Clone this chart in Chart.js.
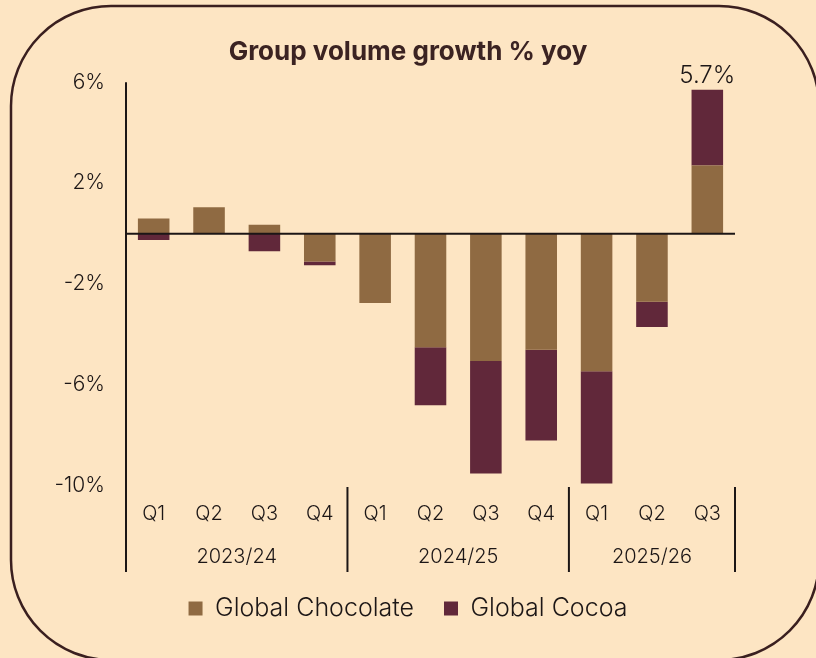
<!DOCTYPE html>
<html lang="en">
<head>
    <meta charset="UTF-8">
    <title>Group volume growth</title>
    <style>
        html, body { margin: 0; padding: 0; background: #fde5c3; }
        #wrap { width: 816px; height: 658px; position: relative; }
    </style>
</head>
<body>
    <div id="wrap">
        <canvas id="myChart" width="816" height="658"></canvas>
    </div>
    <script src="https://cdn.jsdelivr.net/npm/chart.js"></script>
    <script>
        // data
        const quarters = ["Q1", "Q2", "Q3", "Q4", "Q1", "Q2", "Q3", "Q4", "Q1", "Q2", "Q3"];
        const years = ["2023/24", "2024/25", "2025/26"];
        const yearSizes = [4, 4, 3];
        const chocolate = [0.6, 1.05, 0.35, -1.1, -2.75, -4.5, -5.05, -4.6, -5.45, -2.7, 2.7];
        const cocoa = [-0.25, 0, -0.7, -0.15, 0, -2.3, -4.45, -3.6, -4.45, -1.0, 3.0];
        const totalLabel = "5.7%";
        const yTicks = [6, 2, -2, -6, -10];

        const ink = "#1c1616";
        const fontName = "Inter, Lato, sans-serif";

        const framePlugin = {
            id: "frame",
            beforeDraw(chart) {
                const c = chart.ctx;
                c.save();
                c.fillStyle = "#fde5c3";
                c.fillRect(0, 0, chart.width, chart.height);
                c.beginPath();
                c.roundRect(11, 6, 808, 654, 100);
                c.lineWidth = 2.5;
                c.strokeStyle = "#3a1f1f";
                c.stroke();
                c.restore();
            },
            afterDatasetsDraw(chart) {
                const c = chart.ctx;
                const x = chart.scales.x;
                const y = chart.scales.y;
                const top = y.getPixelForValue(6);
                const bot = 572;
                c.save();
                c.strokeStyle = ink;
                c.lineWidth = 2;
                // zero line
                const y0 = y.getPixelForValue(0);
                c.beginPath();
                c.moveTo(x.left, y0);
                c.lineTo(x.right, y0);
                c.stroke();
                // y axis line
                c.beginPath();
                c.moveTo(x.left, top);
                c.lineTo(x.left, bot);
                c.stroke();
                // year separators and labels
                const step = (x.right - x.left) / quarters.length;
                let idx = 0;
                c.font = "300 20px " + fontName;
                c.fillStyle = ink;
                c.textAlign = "center";
                c.textBaseline = "middle";
                for (let i = 0; i < years.length; i++) {
                    const x0 = x.left + idx * step;
                    idx += yearSizes[i];
                    const x1 = x.left + idx * step;
                    c.beginPath();
                    c.moveTo(x1, y.bottom + 1);
                    c.lineTo(x1, bot);
                    c.stroke();
                    c.fillText(years[i], (x0 + x1) / 2, 557);
                }
                // total label over last bar
                const meta = chart.getDatasetMeta(1);
                const bar = meta.data[quarters.length - 1];
                c.font = "300 24px " + fontName;
                c.textBaseline = "alphabetic";
                c.fillText(totalLabel, bar.x, bar.y - 7);
                c.restore();
            }
        };

        const ctx = document.getElementById("myChart");

        new Chart(ctx, {
            type: "bar",
            data: {
                labels: quarters,
                datasets: [
                    { label: "Global Chocolate", data: chocolate, backgroundColor: "#8f6a42" },
                    { label: "Global Cocoa", data: cocoa, backgroundColor: "#61283a" }
                ]
            },
            options: {
                responsive: false,
                animation: false,
                layout: { padding: { left: 0, right: 0, bottom: 27 } },
                datasets: { bar: { barPercentage: 0.57, categoryPercentage: 1.0 } },
                plugins: {
                    title: {
                        display: true,
                        text: "Group volume growth % yoy",
                        color: "#3b2322",
                        font: { family: fontName, size: 26, weight: "bold" },
                        padding: { top: 37, bottom: 14 }
                    },
                    legend: {
                        position: "bottom",
                        labels: {
                            color: ink,
                            font: { family: fontName, size: 25, weight: "300" },
                            boxWidth: 14,
                            boxHeight: 14,
                            padding: 30
                        }
                    },
                    tooltip: { enabled: false }
                },
                scales: {
                    x: {
                        stacked: true,
                        grid: { display: false, drawTicks: false },
                        border: { display: false },
                        ticks: { color: ink, font: { family: fontName, size: 20, weight: "300" }, padding: 16 },
                        afterFit(s) { s.height = 80; }
                    },
                    y: {
                        stacked: true,
                        min: -10,
                        max: 6,
                        afterBuildTicks(s) { s.ticks = yTicks.map(v => ({ value: v })); },
                        grid: { display: false, drawTicks: false },
                        border: { display: false },
                        ticks: {
                            color: ink,
                            font: { family: fontName, size: 21, weight: "300" },
                            padding: 21,
                            callback: (v) => v + "%"
                        },
                        afterFit(s) { s.width = 126; }
                    },
                    // empty right axis, only reserves the right margin
                    yR: {
                        position: "right",
                        min: -10,
                        max: 6,
                        grid: { display: false, drawTicks: false },
                        border: { display: false },
                        ticks: { display: false },
                        afterFit(s) { s.width = 81; }
                    }
                }
            },
            plugins: [framePlugin]
        });
    </script>
</body>
</html>
